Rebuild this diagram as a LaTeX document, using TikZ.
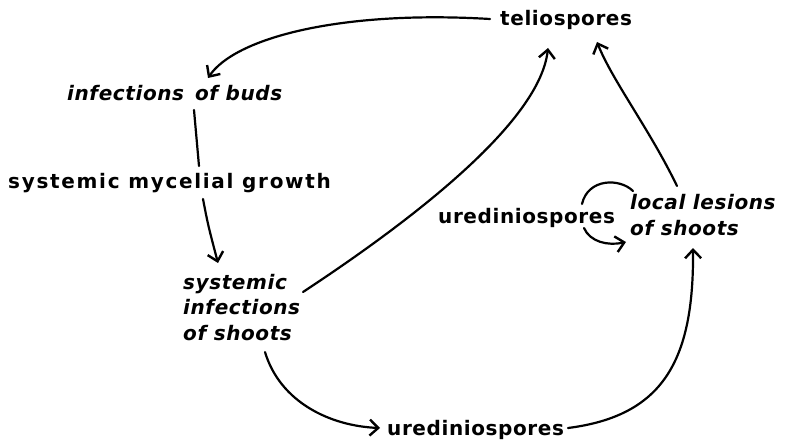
\documentclass[tikz,border=0pt]{standalone}
\usepackage{fontspec}
\setmainfont{DejaVu Sans}[LetterSpace=3]
\usetikzlibrary{arrows.meta,calc}
\begin{document}
\begin{tikzpicture}[x=1pt,y=-1pt,
  lbl/.style={inner sep=0pt, anchor=base west, font=\fontsize{20}{25.5}\selectfont\bfseries},
  ilbl/.style={lbl, font=\fontsize{20}{25.5}\selectfont\bfseries\itshape, align=left},
  conn/.style={line width=2.2pt, line cap=round, -{Straight Barb[length=8.5pt,width=16pt,line width=2.4pt]}},
  plainc/.style={line width=2.2pt, line cap=round}]
\useasboundingbox (0,0) rectangle (788,444);
\node[lbl]  (tel)   at (500,26)  {teliospores};
\node[ilbl] (buds)  at (67,101)  {infections\, of buds};
\node[lbl, font=\fontsize{20}{25.5}\selectfont\bfseries\addfontfeature{LetterSpace=8.5}] (myc) at (8,188) {systemic mycelial growth};
\node[ilbl] (sis)   at (183,340) {systemic\\infections\\of shoots};
\node[lbl]  (ured1) at (438,223) {urediniospores};
\node[ilbl] (loc)   at (630,235) {local lesions\\of shoots};
\node[lbl]  (ured2) at (387,435) {urediniospores};
% teliospores -> infections of buds
\draw[conn] ($(tel.base west)+(-10,-7)$) .. controls (340,10) and (235,38) .. ($(buds.base west)+(141,-23)$);
% infections of buds -> systemic infections (interrupted by label)
\draw[plainc] ($(buds.base west)+(127,9)$) -- ($(myc.base west)+(191,-22)$);
\draw[conn] ($(myc.base west)+(195,11)$) .. controls (208,225) .. ($(sis.base west)+(35,-77)$);
% systemic infections -> teliospores
\draw[conn] ($(sis.base west)+(120,-48)$) .. controls (420,215) and (540,120) .. ($(tel.base west)+(48,22)$);
% local lesions -> teliospores
\draw[conn] ($(loc.base west)+(47,-49)$) .. controls (650,130) and (612,80) .. ($(tel.base west)+(97,16)$);
% local lesions <-> urediniospores loop
\draw[plainc] ($(loc.base west)+(3,-44)$) .. controls (620,178) and (588,178) .. ($(ured1.base west)+(144,-19)$);
\draw[conn] ($(ured1.base west)+(146,5)$) .. controls (590,242) and (608,246) .. ($(loc.base west)+(-4,7)$);
% systemic infections -> urediniospores
\draw[conn] ($(sis.base west)+(82,12)$) .. controls (280,402) and (330,426) .. ($(ured2.base west)+(-7,-7)$);
% urediniospores -> local lesions
\draw[conn] ($(ured2.base west)+(181,-7)$) .. controls (662,416) and (694,362) .. ($(loc.base west)+(63,13)$);
\end{tikzpicture}
\end{document}
